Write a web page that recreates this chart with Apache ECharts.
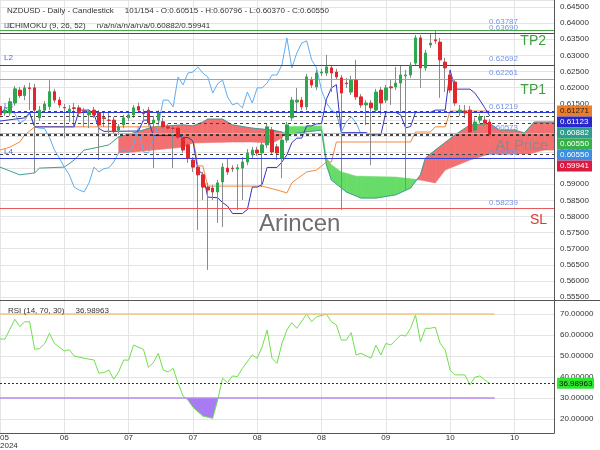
<!DOCTYPE html>
<html>
<head>
<meta charset="utf-8">
<script src="https://cdn.jsdelivr.net/npm/echarts@6.0.0/dist/echarts.min.js"></script>
<style>html,body{margin:0;padding:0;background:#fff;}#chart{width:600px;height:450px;}</style>
</head>
<body>
<div id="chart"></div>
<script>
const FONT = '"Liberation Sans", Arial, sans-serif';

// x-axis tick labels (every 13 sessions)
const tickLabels = ['05\n2024', '06', '07', '07', '08', '08', '09', '10', '10'];

// daily candles
const open = [0.6141,0.6121,0.6121,0.6152,0.6192,0.6175,0.6199,0.6199,0.6106,0.6130,
0.6141,0.6187,0.6161,0.6138,0.6124,0.6137,0.6137,0.6127,0.6115,0.6130,
0.6121,0.6106,0.6099,0.6099,0.6068,0.6084,0.6106,0.6115,0.6141,0.6121,
0.6130,0.6090,0.6099,0.6094,0.6078,0.6074,0.6074,0.6043,0.6022,0.5975,
0.5953,0.5929,0.5891,0.5888,0.5876,0.5907,0.5950,0.5950,0.5947,0.5950,
0.5969,0.5991,0.6006,0.5997,0.6022,0.6068,0.6016,0.5981,0.6037,0.6106,
0.6155,0.6161,0.6140,0.6223,0.6202,0.6245,0.6245,0.6261,0.6248,0.6230,
0.6214,0.6186,0.6223,0.6171,0.6146,0.6152,0.6130,0.6192,0.6161,0.6202,
0.6202,0.6214,0.6236,0.6239,0.6276,0.6354,0.6261,0.6332,0.6348,0.6341,
0.6279,0.6239,0.6217,0.6124,0.6127,0.6130,0.6068,0.6099,0.6099,0.6093];
const close = [0.6115,0.6130,0.6156,0.6196,0.6175,0.6199,0.6197,0.6130,0.6130,0.6149,
0.6187,0.6161,0.6146,0.6137,0.6133,0.6135,0.6121,0.6126,0.6125,0.6115,
0.6084,0.6104,0.6098,0.6063,0.6078,0.6106,0.6115,0.6137,0.6130,0.6119,
0.6090,0.6099,0.6121,0.6078,0.6074,0.6073,0.6046,0.6006,0.5981,0.5953,
0.5929,0.5891,0.5882,0.5876,0.5904,0.5953,0.5938,0.5948,0.5951,0.5969,
0.5997,0.6006,0.5997,0.6022,0.6078,0.6000,0.5997,0.6037,0.6084,0.6161,
0.6161,0.6140,0.6233,0.6208,0.6245,0.6248,0.6264,0.6245,0.6233,0.6183,
0.6212,0.6223,0.6171,0.6146,0.6152,0.6137,0.6186,0.6152,0.6199,0.6199,
0.6214,0.6239,0.6239,0.6270,0.6354,0.6261,0.6307,0.6338,0.6345,0.6286,
0.6261,0.6192,0.6152,0.6130,0.6121,0.6062,0.6093,0.6109,0.6090,0.6055];
const low = [0.6106,0.6112,0.6112,0.6143,0.6168,0.6161,0.6130,0.5935,0.6096,0.6121,
0.6130,0.6152,0.6137,0.6043,0.6093,0.6078,0.6109,0.6078,0.6074,0.6106,
0.5975,0.6078,0.6046,0.6056,0.6053,0.6074,0.6096,0.6106,0.6121,0.6093,
0.6081,0.5950,0.6090,0.6071,0.6065,0.5950,0.6037,0.5997,0.5966,0.5938,
0.5758,0.5851,0.5634,0.5851,0.5780,0.5767,0.5929,0.5938,0.5820,0.5851,
0.5959,0.5981,0.5988,0.5891,0.6012,0.5991,0.5975,0.5919,0.6028,0.6096,
0.6121,0.6130,0.6130,0.6199,0.6192,0.6236,0.6236,0.6186,0.6223,0.5820,
0.6199,0.6177,0.6161,0.6137,0.6084,0.5959,0.6121,0.6115,0.6152,0.6146,
0.6192,0.6124,0.5882,0.6230,0.6267,0.6199,0.6252,0.6323,0.6335,0.6168,
0.6186,0.6183,0.6143,0.6112,0.6106,0.6053,0.6059,0.6090,0.6081,0.6043];
const high = [0.6155,0.6140,0.6168,0.6205,0.6202,0.6208,0.6215,0.6211,0.6143,0.6158,
0.6223,0.6196,0.6171,0.6149,0.6146,0.6152,0.6146,0.6137,0.6133,0.6140,
0.6130,0.6124,0.6121,0.6109,0.6087,0.6115,0.6124,0.6146,0.6153,0.6133,
0.6140,0.6112,0.6130,0.6106,0.6087,0.6084,0.6084,0.6053,0.6031,0.5984,
0.5966,0.5938,0.5904,0.5898,0.5913,0.5966,0.5981,0.5959,0.5962,0.5984,
0.6009,0.6016,0.6016,0.6031,0.6087,0.6078,0.6025,0.6046,0.6093,0.6171,
0.6199,0.6171,0.6242,0.6233,0.6255,0.6258,0.6301,0.6270,0.6258,0.6239,
0.6230,0.6236,0.6286,0.6180,0.6161,0.6161,0.6196,0.6202,0.6208,0.6223,
0.6264,0.6270,0.6255,0.6279,0.6363,0.6363,0.6317,0.6369,0.6379,0.6354,
0.6292,0.6255,0.6226,0.6146,0.6146,0.6143,0.6106,0.6118,0.6112,0.6102];

// Ichimoku lines: [session, price]
const tenkan = [[0,0.6096],[5,0.6106],[6,0.6121],[7,0.6078],[15,0.6078],[16,0.6130],[18,0.6130],[19,0.6118],[20,0.6073],[21,0.6064],[28,0.6065],[29,0.6099],[30,0.6099],[31,0.6051],[36,0.6051],[37,0.6045],[38,0.6045],[39,0.6034],[40,0.5944],[41,0.5932],[42,0.5860],[44,0.5858],[45,0.5843],[46,0.5832],[47,0.5809],[49,0.5809],[50,0.5821],[51,0.5891],[52,0.5891],[53,0.5899],[54,0.5952],[56,0.5952],[57,0.5969],[58,0.5991],[59,0.6029],[60,0.6043],[61,0.6043],[62,0.6081],[63,0.6081],[64,0.6087],[65,0.6088],[66,0.6164],[67,0.6199],[68,0.6209],[69,0.6060],[74,0.6060],[75,0.6053],[77,0.6053],[78,0.6123],[80,0.6123],[81,0.6115],[82,0.6075],[83,0.6079],[84,0.6123],[87,0.6123],[88,0.6130],[90,0.6130],[91,0.6254],[92,0.6195],[95,0.6195],[96,0.6183],[97,0.6161],[98,0.6137],[99,0.61123]];
const kijun = [[0,0.6006],[2,0.6015],[4,0.6031],[5,0.6053],[6,0.6065],[7,0.6078],[32,0.6078],[36,0.6074],[37,0.6062],[38,0.6053],[39,0.6047],[40,0.5957],[41,0.5957],[42,0.5894],[53,0.5894],[56,0.5882],[58,0.5873],[59,0.5904],[60,0.5916],[62,0.5938],[64,0.5944],[66,0.5969],[67,0.5969],[68,0.6031],[83,0.6031],[84,0.6062],[87,0.6062],[88,0.6078],[90,0.6078],[91,0.6127],[99,0.61271]];
const spanA = [[0,0.5953],[4,0.5929],[7,0.5935],[8,0.5950],[13,0.5953],[15,0.5975],[17,0.6006],[19,0.6012],[22,0.6022],[24,0.6047],[27,0.6059],[31,0.6078],[37,0.6084],[39,0.6081],[41,0.6093],[42,0.6102],[45,0.6102],[47,0.6084],[51,0.6074],[55,0.6068],[57,0.6062],[58,0.6053],[60,0.6059],[65,0.6068],[66,0.5960],[67,0.5913],[70,0.5876],[73,0.5857],[76,0.5857],[80,0.5867],[83,0.5888],[85,0.5929],[86,0.5981],[88,0.6006],[92,0.6053],[95,0.6084],[99,0.60882],[101,0.6068],[104,0.6068],[106,0.6059],[108,0.6093],[112,0.6093]];
const spanB = [[24,0.5997],[27,0.6000],[31,0.6006],[37,0.6015],[39,0.6028],[47,0.6031],[51,0.6031],[55,0.6028],[57,0.6043],[58,0.6078],[65,0.6081],[66,0.5981],[67,0.5960],[69,0.5938],[72,0.5925],[80,0.5922],[85,0.5913],[88,0.5904],[90,0.5944],[95,0.5975],[99,0.59941],[107,0.59941],[110,0.6006],[112,0.6006]];
const chikouShift = 26;

// RSI(14): [session, value]
const rsi = [[0,58.1],[1,58],[3,67.5],[4,64],[5,66.3],[6,66.3],[7,53.2],[8,53.5],[9,55.8],[10,60.8],[11,56],[13,52.4],[14,53],[15,50],[17,48.9],[19,48.1],[20,41.8],[21,42.1],[22,43.3],[23,38.9],[24,42.5],[25,48.1],[26,48],[27,55.2],[29,53.2],[30,44.6],[31,46.8],[32,51.3],[33,43.3],[34,42.4],[35,44.1],[36,37],[37,31],[38,29],[39,25.6],[41,21.4],[43,20.3],[44,29],[45,39.4],[46,37.3],[47,40.5],[48,40.2],[49,44.1],[51,50.5],[52,48.9],[53,54.4],[54,62.4],[55,48.9],[56,46.5],[57,56],[58,62.4],[59,65.9],[60,63.2],[62,70],[63,66.3],[64,68.7],[66,69.9],[67,66.3],[68,64.8],[69,57.6],[70,57.6],[71,61.1],[72,50.5],[73,51.3],[75,48.9],[76,55.2],[77,50.5],[78,56],[79,55.2],[81,60],[82,59.5],[83,63.2],[84,69.5],[85,56.8],[86,63.2],[87,63.2],[88,63.7],[89,56],[90,52.9],[91,43.3],[92,41],[94,41],[95,36.2],[96,39.9],[97,40.5],[98,38.6],[99,36.98963]];
const rsiLevels = [70, 30];
const rsiLast = 36.98963;

// horizontal levels
const tpLevels = [0.63787, 0.62261];
const tpNames = ['TP2', 'TP1'];
const lLevels = [0.63690, 0.62692, 0.61219, 0.59800];
const lNames = ['L1', 'L2', 'L3', 'L4'];
const entryLevel = 0.60573;
const entryName = 'At Price';
const slLevel = 0.58239;
// last values of indicators (kijun, tenkan, span A, close, price, span B)
const lastValues = [0.61271, 0.61123, 0.60882, 0.60550, 0.60550, 0.59941];

const titleText = 'NZDUSD - Daily - Candlestick     101/154 - O:0.60515 - H:0.60796 - L:0.60370 - C:0.60550';
const ichiText = 'ICHIMOKU (9, 26, 52)     n/a/n/a/n/a/n/a/0.60882/0.59941';
const rsiText = 'RSI (14, 70, 30)     36.98963';

// ---------- build ----------
const candleFull = open.map((o, i) => [i, o, close[i], low[i], high[i]]);
const candleBody = open.map((o, i) => [i, o, close[i], Math.min(o, close[i]), Math.max(o, close[i])]);
const chikou = close.slice(chikouShift).map((c, i) => [i, c]);

function interp(line, x) {
  for (let k = 0; k < line.length - 1; k++) {
    const a = line[k], b = line[k + 1];
    if (x >= a[0] && x <= b[0]) {
      if (b[0] === a[0]) return a[1];
      return a[1] + (b[1] - a[1]) * (x - a[0]) / (b[0] - a[0]);
    }
  }
  return null;
}
// cloud pieces between span A and span B
const cloudPieces = [];
(function () {
  const xStart = Math.max(spanA[0][0], spanB[0][0]);
  const xEnd = Math.min(spanA[spanA.length - 1][0], spanB[spanB.length - 1][0]);
  const xs = Array.from(new Set(spanA.map(p => p[0]).concat(spanB.map(p => p[0]))))
    .filter(x => x >= xStart && x <= xEnd).sort((a, b) => a - b);
  for (let k = 0; k < xs.length - 1; k++) {
    const x0 = xs[k], x1 = xs[k + 1];
    const a0 = interp(spanA, x0), a1 = interp(spanA, x1);
    const b0 = interp(spanB, x0), b1 = interp(spanB, x1);
    const d0 = a0 - b0, d1 = a1 - b1;
    if (d0 * d1 < 0) {
      const t = d0 / (d0 - d1);
      const xm = x0 + t * (x1 - x0), ym = a0 + t * (a1 - a0);
      cloudPieces.push({ pts: [[x0, a0], [xm, ym], [x0, b0]], up: d0 > 0 });
      cloudPieces.push({ pts: [[xm, ym], [x1, a1], [x1, b1]], up: d1 > 0 });
    } else {
      cloudPieces.push({ pts: [[x0, a0], [x1, a1], [x1, b1], [x0, b0]], up: (d0 + d1) > 0 });
    }
  }
})();
// RSI oversold polygons (below 30)
const rsiPolys = [];
(function () {
  const level = rsiLevels[1];
  let cur = null;
  for (let k = 0; k < rsi.length; k++) {
    const [x, v] = rsi[k];
    if (k > 0) {
      const [px, pv] = rsi[k - 1];
      if ((pv - level) * (v - level) < 0) {
        const t = (level - pv) / (v - pv);
        const cx = px + t * (x - px);
        if (cur) { cur.push([cx, level]); rsiPolys.push(cur); cur = null; }
        else cur = [[cx, level]];
      }
    }
    if (v < level && cur) cur.push([x, v]);
  }
})();

const CLOUD_RED = '#f27070', CLOUD_GREEN = '#68dc68';
const LBLUE = '#7393e6';
const DARKBLUE = '#2f3ed6';
const NOLINE = { color: 'rgba(0,0,0,0)', width: 1, type: 'solid' };

const mainMarks = [];
tpLevels.forEach((v, k) => {
  mainMarks.push({ yAxis: v, lineStyle: { color: k === 0 ? '#4aa84a' : '#72c472', width: 1, type: 'solid' },
    label: { show: true, position: 'insideEndTop', distance: [36, k === 0 ? 4 : 2], formatter: v.toFixed(5), color: LBLUE, fontSize: 8, fontFamily: FONT } });
  mainMarks.push({ yAxis: v, lineStyle: NOLINE,
    label: { show: true, position: 'insideEndBottom', distance: [8, 4], formatter: tpNames[k], color: '#3f9f3f', fontSize: 14, fontFamily: FONT } });
});
lLevels.forEach((v, k) => {
  mainMarks.push({ yAxis: v, lineStyle: { color: DARKBLUE, width: 1, type: 'solid' },
    label: { show: true, position: 'insideStartTop', distance: [4, 3], formatter: lNames[k], color: '#4a6ae0', fontSize: 8, fontFamily: FONT } });
  mainMarks.push({ yAxis: v, lineStyle: NOLINE,
    label: { show: true, position: 'insideEndTop', distance: [36, k === 0 ? 1 : 2], formatter: v.toFixed(5), color: LBLUE, fontSize: 8, fontFamily: FONT } });
});
mainMarks.push({ yAxis: entryLevel, lineStyle: { color: '#b8b8b8', width: 1, type: 'solid' },
  label: { show: true, position: 'insideEndTop', distance: [36, 2], formatter: entryLevel.toFixed(5), color: LBLUE, fontSize: 8, fontFamily: FONT } });
mainMarks.push({ yAxis: slLevel, lineStyle: { color: '#e85a5a', width: 1, type: 'solid' },
  label: { show: true, position: 'insideEndTop', distance: [36, 2], formatter: slLevel.toFixed(5), color: LBLUE, fontSize: 8, fontFamily: FONT } });
mainMarks.push({ yAxis: slLevel, lineStyle: NOLINE,
  label: { show: true, position: 'insideEndBottom', distance: [7, 4], formatter: 'SL', color: '#e03434', fontSize: 14, fontFamily: FONT } });
lastValues.forEach((v, k) => {
  mainMarks.push({ yAxis: v, lineStyle: { color: k === 3 ? '#111' : '#444', width: k === 3 ? 1.5 : 1, type: [3, 3] }, label: { show: false } });
});

const lineS = (name, data, color, z) => ({
  name, type: 'line', xAxisIndex: 0, yAxisIndex: 0, data, showSymbol: false, symbol: 'none',
  lineStyle: { color, width: 1 }, z: z || 3, silent: true, animation: false
});

const option = {
  animation: false,
  backgroundColor: '#ffffff',
  textStyle: { fontFamily: FONT },
  grid: [
    { left: 0, right: 46, top: 0, height: 300, outerBoundsMode: 'none', containLabel: false },
    { left: 0, right: 46, top: 300, height: 133, outerBoundsMode: 'none', containLabel: false }
  ],
  xAxis: [
    { type: 'value', gridIndex: 0, min: 0, max: 112, interval: 13,
      axisLine: { show: false }, axisTick: { show: false }, axisLabel: { show: false },
      splitLine: { show: true, lineStyle: { color: '#e4e4e4', width: 1 } } },
    { type: 'value', gridIndex: 1, min: 0, max: 112, interval: 13,
      axisLine: { show: true, onZero: false, lineStyle: { color: '#555', width: 1 } }, axisTick: { show: false },
      axisLabel: { show: true, fontSize: 8, color: '#333', margin: 1, lineHeight: 8, fontFamily: FONT,
        showMaxLabel: false, alignMinLabel: 'left',
        formatter: v => { const k = Math.round(v / 13); return tickLabels[k] !== undefined ? tickLabels[k] : ''; } },
      splitLine: { show: true, lineStyle: { color: '#e4e4e4', width: 1 } } }
  ],
  yAxis: [
    { type: 'value', gridIndex: 0, position: 'right', min: 0.55406, max: 0.64717, splitNumber: 18,
      axisLine: { show: true, onZero: false, lineStyle: { color: '#555', width: 1 } }, axisTick: { show: false },
      axisLabel: { fontSize: 8, color: '#333', margin: 6, fontFamily: FONT, showMinLabel: false, showMaxLabel: false,
        formatter: v => v.toFixed(5) },
      splitLine: { show: true, lineStyle: { color: '#e4e4e4', width: 1 } } },
    { type: 'value', gridIndex: 1, position: 'right', min: 13.333, max: 76.667, splitNumber: 6,
      axisLine: { show: true, onZero: false, lineStyle: { color: '#555', width: 1 } }, axisTick: { show: false },
      axisLabel: { fontSize: 8, color: '#333', margin: 6, fontFamily: FONT, showMinLabel: false, showMaxLabel: false,
        formatter: v => v.toFixed(5) },
      splitLine: { show: true, lineStyle: { color: '#e4e4e4', width: 1 } } }
  ],
  series: [
    { name: 'cloud', type: 'custom', xAxisIndex: 0, yAxisIndex: 0, clip: true, silent: true, z: 1,
      data: cloudPieces.map((p, i) => [p.pts[0][0], p.pts[0][1], i]),
      encode: { x: 0, y: 1 },
      renderItem: (params, api) => {
        const p = cloudPieces[params.dataIndex];
        const col = p.up ? CLOUD_RED : CLOUD_GREEN;
        return { type: 'polygon', shape: { points: p.pts.map(q => api.coord(q)) },
          style: { fill: col, stroke: col, lineWidth: 0.6 } };
      } },
    lineS('Senkou Span A', spanA, '#3f9f92', 2),
    lineS('Chikou', chikou, '#5eacf0', 3),
    lineS('Kijun', kijun, '#f08a3c', 3),
    lineS('Tenkan', tenkan, '#3434c4', 3),
    { name: 'levels', type: 'line', xAxisIndex: 0, yAxisIndex: 0, data: [], z: 3, silent: true,
      markLine: { symbol: ['none', 'none'], silent: true, animation: false, precision: 6, data: mainMarks } },
    { name: 'wicks', type: 'candlestick', xAxisIndex: 0, yAxisIndex: 0, data: candleFull,
      encode: { x: 0, y: [1, 2, 3, 4] }, barWidth: 1, silent: true, z: 4,
      itemStyle: { color: '#8a8a8a', color0: '#8a8a8a', borderColor: '#8a8a8a', borderColor0: '#8a8a8a', borderColorDoji: '#8a8a8a', borderWidth: 1 } },
    { name: 'NZDUSD', type: 'candlestick', xAxisIndex: 0, yAxisIndex: 0, data: candleBody,
      encode: { x: 0, y: [1, 2, 3, 4] }, barWidth: 3, silent: true, z: 5,
      itemStyle: { color: '#2ea84e', color0: '#e2262c', borderColor: '#2ea84e', borderColor0: '#e2262c', borderColorDoji: '#888', borderWidth: 1 } },
    { name: 'rsiFill', type: 'custom', xAxisIndex: 1, yAxisIndex: 1, clip: true, silent: true, z: 1,
      data: rsiPolys.map((p, i) => [p[0][0], p[0][1], i]), encode: { x: 0, y: 1 },
      renderItem: (params, api) => ({ type: 'polygon', shape: { points: rsiPolys[params.dataIndex].map(q => api.coord(q)) },
        style: { fill: '#a77cf2' } }) },
    { name: 'RSI', type: 'line', xAxisIndex: 1, yAxisIndex: 1, data: rsi, showSymbol: false, symbol: 'none',
      lineStyle: { color: '#6ee04a', width: 1 }, z: 3, silent: true,
      markLine: { symbol: ['none', 'none'], silent: true, animation: false, precision: 6, label: { show: false },
        data: [
          [{ coord: [0, rsiLevels[0]], lineStyle: { color: '#f4c47c', width: 1.5, type: 'solid' } }, { coord: [100, rsiLevels[0]] }],
          [{ coord: [0, rsiLevels[1]], lineStyle: { color: '#b48cf2', width: 1.5, type: 'solid' } }, { coord: [100, rsiLevels[1]] }],
          { yAxis: rsiLast, lineStyle: { color: '#333', width: 1, type: [2, 2] } }
        ] } }
  ]
};

const chart = echarts.init(document.getElementById('chart'), null, { renderer: 'canvas', width: 600, height: 450 });
chart.setOption(option);

// overlay texts and value tags
const F8 = '8px ' + FONT;
const g = [];
g.push({ type: 'line', silent: true, z: 50, shape: { x1: 0, y1: 300.5, x2: 600, y2: 300.5 }, style: { stroke: '#555', lineWidth: 1 } });
const txt = (x, y, text, font, fill, z, align) => ({ type: 'text', silent: true, z: z || 60, x, y,
  style: { text, font, fill, align: align || 'left', verticalAlign: 'middle', textAlign: align || 'left', textVerticalAlign: 'middle' } });
g.push(txt(7, 10.5, titleText, F8, '#333'));
g.push(txt(7, 25.5, ichiText, F8, '#333'));
g.push(txt(8, 311, rsiText, F8, '#333'));
g.push(txt(259, 224, 'Arincen', '24px ' + FONT, '#6e6e6e', 40));
const ey = chart.convertToPixel({ yAxisIndex: 0 }, entryLevel);
g.push(txt(548, ey + 12, entryName, '15px ' + FONT, 'rgba(135,135,135,0.85)', 65, 'right'));

const tagBg = ['#ef7d28', '#2727cc', '#2f9d8d', '#37b04a', '#3a8fe4', '#dc1a40'];
const tagFg = ['#222', '#fff', '#fff', '#fff', '#fff', '#fff'];
let prevY = -1e9;
lastValues.forEach((v, k) => {
  let y = chart.convertToPixel({ yAxisIndex: 0 }, v);
  y = Math.max(y, prevY + 11);
  prevY = y;
  g.push({ type: 'rect', silent: true, z: 70, shape: { x: 557, y: y - 5.5, width: 35, height: 11 }, style: { fill: tagBg[k] } });
  g.push(txt(560, y, v.toFixed(5), F8, tagFg[k], 71));
});
const ry = chart.convertToPixel({ yAxisIndex: 1 }, rsiLast);
g.push({ type: 'rect', silent: true, z: 70, shape: { x: 557, y: ry - 5.5, width: 37, height: 11 }, style: { fill: '#2ee62e' } });
g.push(txt(559, ry, rsiLast.toFixed(5), F8, '#111', 71));

chart.setOption({ graphic: { elements: g } });
</script>
</body>
</html>
